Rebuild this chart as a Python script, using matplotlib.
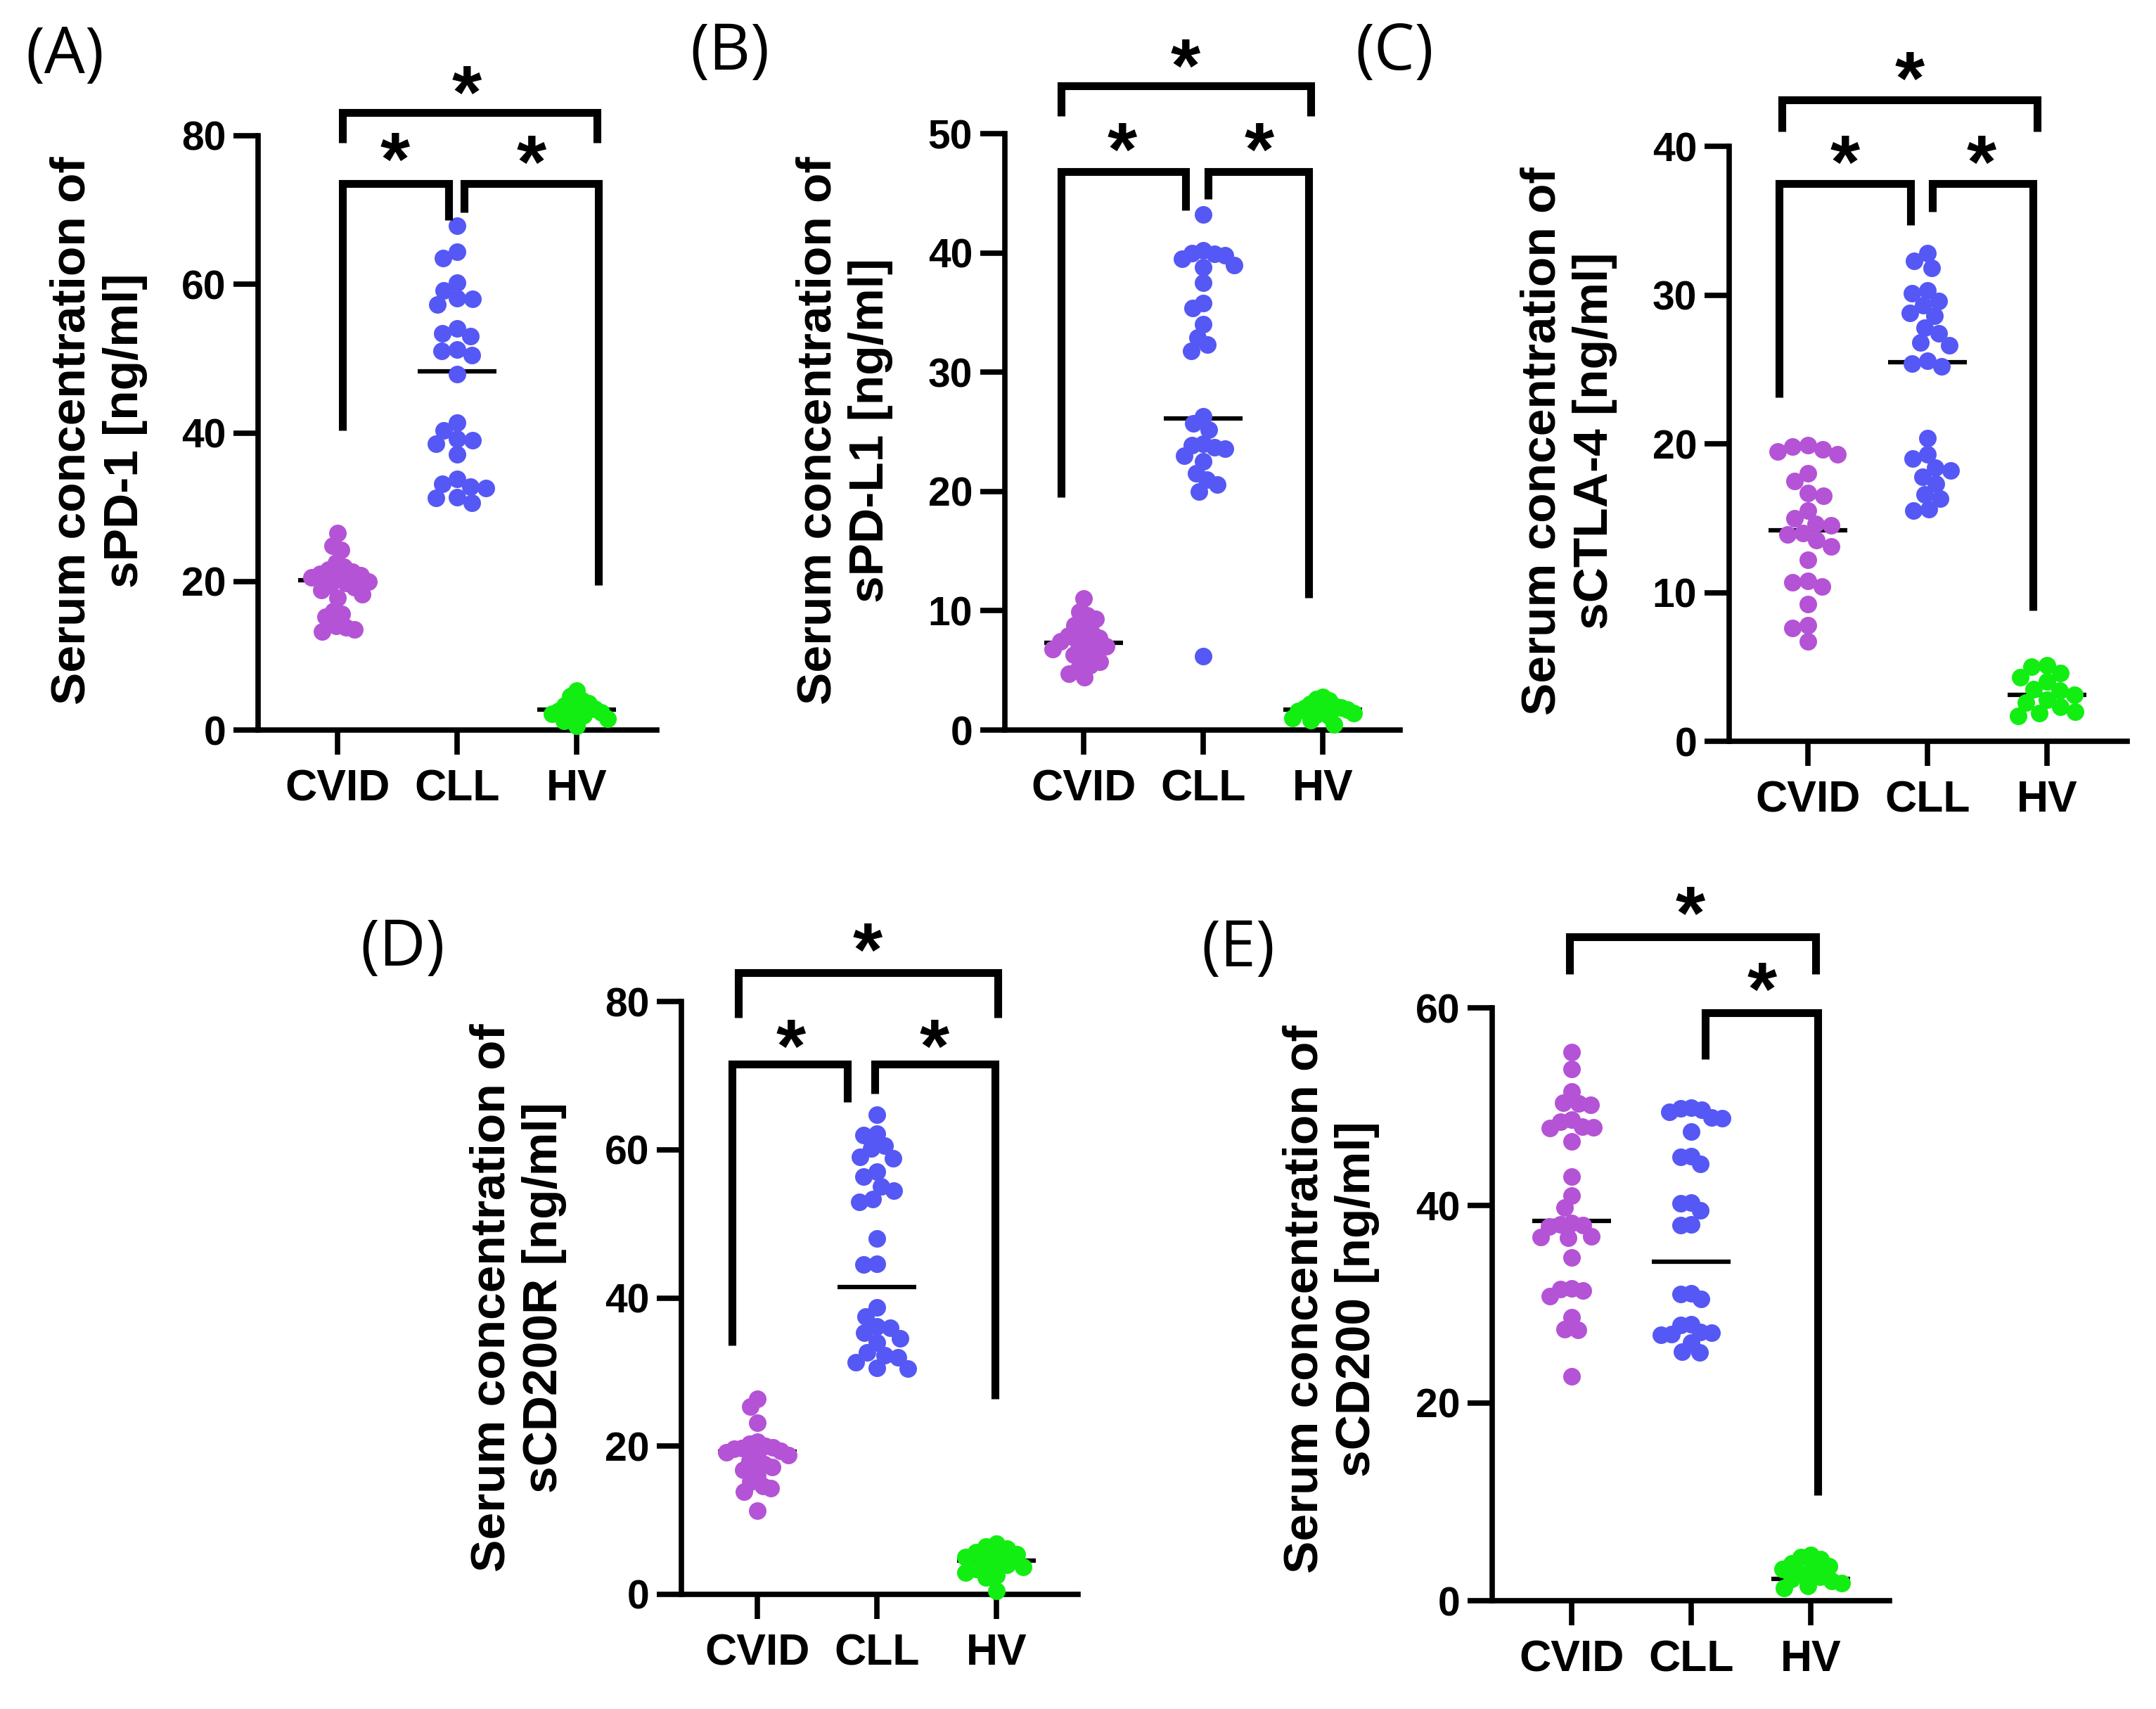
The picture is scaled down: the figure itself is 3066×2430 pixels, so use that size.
import numpy as np
import matplotlib
matplotlib.use("Agg")
import matplotlib.pyplot as plt
import matplotlib.transforms as mtransforms

plt.rcParams['font.family'] = ['Liberation Sans', 'DejaVu Sans']

# ---------------- data ----------------
groups = ["CVID", "CLL", "HV"]
group_colors = ["#B453D5", "#5558F4", "#12EE12"]

# Panel A: sPD-1
a_cvid = [26.5, 24.8, 24.2, 22.5, 22.0, 21.6, 21.3, 21.0, 20.8, 20.5, 20.3, 20.0, 19.8,
          19.5, 19.2, 18.8, 18.3, 17.8, 16.0, 15.6, 15.2, 14.0, 13.8, 13.5, 13.3]
a_cll = [67.9, 64.4, 63.5, 60.2, 59.2, 58.1, 58.0, 57.3, 54.1, 53.4, 53.0, 51.2, 51.0, 50.5,
         47.9, 41.4, 40.3, 39.2, 39.0, 38.5, 37.1, 33.8, 33.1, 32.8, 32.6, 31.3, 31.2, 30.6]
a_hv = [5.3, 4.5, 4.0, 3.6, 3.3, 3.0, 2.8, 2.6, 2.4, 2.2, 2.0, 1.8, 1.5, 1.2, 0.6]
a_lines = [20.2, 48.3, 2.7]

# Panel B: sPD-L1
b_cvid = [11.0, 9.9, 9.6, 9.3, 8.8, 8.5, 8.2, 7.9, 7.7, 7.5, 7.4, 7.2, 7.0, 6.8, 6.6,
          6.3, 6.0, 5.7, 5.4, 5.0, 4.7, 4.4]
b_cll = [43.2, 40.2, 40.0, 39.9, 39.8, 39.5, 39.0, 38.8, 37.5, 35.8, 35.4, 34.0, 32.9, 32.3,
         31.8, 26.3, 25.7, 25.2, 24.0, 23.9, 23.7, 23.6, 23.0, 22.5, 21.5, 21.0, 20.6, 20.0, 6.2]
b_hv = [2.8, 2.6, 2.5, 2.2, 2.0, 1.9, 1.8, 1.7, 1.6, 1.5, 1.4, 1.3, 1.2, 1.0, 0.8, 0.5]
b_lines = [7.3, 26.1, 1.7]

# Panel C: sCTLA-4
c_cvid = [19.9, 19.8, 19.6, 19.5, 19.3, 18.0, 17.5, 16.7, 16.5, 15.5, 15.0, 14.6, 14.5, 14.0,
          13.9, 13.5, 13.1, 12.2, 10.8, 10.7, 10.4, 9.2, 7.8, 7.6, 6.7]
c_cll = [32.8, 32.3, 31.8, 30.3, 30.1, 29.6, 29.3, 28.8, 28.6, 27.8, 27.4, 26.8, 26.6, 25.6,
         25.4, 25.2, 20.4, 19.3, 19.0, 18.4, 18.2, 17.8, 17.3, 16.6, 16.3, 15.6, 15.5]
c_hv = [5.1, 5.0, 4.6, 4.3, 4.0, 3.5, 3.4, 3.1, 2.8, 2.6, 2.3, 2.0, 1.9, 1.7]
c_lines = [14.2, 25.5, 3.1]

# Panel D: sCD200R
d_cvid = [26.4, 25.3, 23.2, 20.6, 20.3, 20.0, 19.8, 19.7, 19.6, 19.4, 19.2, 18.8, 18.5, 18.0,
          17.6, 17.2, 16.8, 16.0, 15.2, 14.6, 14.3, 13.9, 11.3]
d_cll = [64.7, 62.2, 62.0, 60.5, 60.2, 59.0, 58.8, 57.0, 56.4, 55.0, 54.5, 53.3, 53.0, 48.0,
         44.6, 44.5, 38.7, 37.5, 36.2, 36.0, 35.3, 34.5, 34.0, 32.6, 32.3, 32.0, 31.3, 30.6, 30.5]
d_hv = [6.8, 6.5, 6.2, 5.7, 5.4, 5.0, 4.7, 4.4, 4.0, 3.7, 3.4, 2.9, 2.6, 2.3, 0.5]
d_lines = [19.3, 41.5, 4.6]

# Panel E: sCD200
e_cvid = [55.5, 53.8, 51.5, 50.4, 50.3, 50.2, 48.7, 48.5, 48.0, 47.9, 47.8, 46.5, 42.9, 41.0,
          39.8, 38.2, 38.1, 38.0, 37.9, 36.9, 36.8, 36.7, 34.7, 31.6, 31.5, 31.4, 30.8, 28.7,
          27.5, 27.4, 22.7]
e_cll = [49.9, 49.8, 49.7, 49.5, 48.9, 48.8, 47.5, 45.0, 44.9, 44.2, 40.3, 40.2, 39.5, 38.1,
         38.0, 31.1, 31.0, 30.5, 28.0, 27.9, 27.2, 27.1, 27.0, 26.9, 26.1, 25.2, 25.1]
e_hv = [4.6, 4.4, 4.2, 3.8, 3.5, 3.2, 3.0, 2.7, 2.4, 2.2, 2.0, 1.8, 1.5, 1.3]
e_lines = [38.4, 34.3, 2.2]

panel_letters = ["(A)", "(B)", "(C)", "(D)", "(E)"]
analytes = ["sPD-1", "sPD-L1", "sCTLA-4", "sCD200R", "sCD200"]
y_max = [80, 50, 40, 80, 60]
y_step = [20, 10, 10, 20, 20]

# brackets: (x_left, x_right, y_bar, y_left_end, y_right_end); stars: (x, y)
a_brackets = [(0.04, 2.17, 83.1, 79.1, 79.1), (0.04, 0.93, 73.6, 40.3, 68.6),
              (1.06, 2.18, 73.6, 69.7, 19.5)]
a_stars = [(1.08, 88.1), (0.48, 79.1), (1.62, 78.7)]
b_brackets = [(-0.19, 1.90, 54.0, 51.5, 51.5), (-0.19, 0.85, 46.8, 19.5, 43.6),
              (1.04, 1.88, 46.8, 44.5, 11.1)]
b_stars = [(0.85, 57.1), (0.32, 50.1), (1.47, 50.1)]
c_brackets = [(-0.22, 1.92, 43.1, 41.0, 41.0), (-0.24, 0.86, 37.5, 23.1, 34.7),
              (1.04, 1.88, 37.5, 35.6, 8.8)]
c_stars = [(0.85, 45.7), (0.31, 40.1), (1.45, 40.1)]
d_brackets = [(-0.16, 2.01, 83.9, 77.8, 77.8), (-0.21, 0.75, 71.6, 33.6, 66.4),
              (0.98, 1.99, 71.6, 67.6, 26.4)]
d_stars = [(0.92, 89.3), (0.28, 76.3), (1.48, 76.3)]
e_brackets = [(-0.02, 2.04, 67.2, 63.4, 63.4), (1.12, 2.06, 59.5, 54.8, 10.7)]
e_stars = [(0.99, 71.3), (1.59, 63.6)]

panel_values = [(a_cvid, a_cll, a_hv), (b_cvid, b_cll, b_hv), (c_cvid, c_cll, c_hv),
                (d_cvid, d_cll, d_hv), (e_cvid, e_cll, e_hv)]
panel_lines = [a_lines, b_lines, c_lines, d_lines, e_lines]
panel_brackets = [a_brackets, b_brackets, c_brackets, d_brackets, e_brackets]
panel_stars = [a_stars, b_stars, c_stars, d_stars, e_stars]

# ---------------- layout (pixels) ----------------
W, H = 3066, 2430
DPI = 100
# left, right, top, bottom, x-pixel of first category
geom = [(367, 934, 193, 1038, 480),
        (1429, 1991, 190, 1038, 1541),
        (2459, 3025, 208, 1054, 2571),
        (969, 1533, 1424, 2267, 1077),
        (2122, 2687, 1433, 2276, 2235)]
CAT_PX = 170.0
label_pos = [(92, 80), (1038, 75), (1983, 75), (573, 1349), (1761, 1350)]
ylabel_pos = [(140, 612), (1201, 612), (2231, 627), (737, 1845), (1893, 1847)]

DIAM_PX = 25.0
DIAM_PT = DIAM_PX * 72.0 / DPI
MAX_HALF_PX = 44.0
STAR_FS = 78


def swarm_offsets(ypx, d):
    ypx = np.asarray(ypx, dtype=float)
    order = np.argsort(-ypx, kind="stable")
    placed = []
    offs = np.zeros(len(ypx))
    for i in order:
        y = ypx[i]
        near = [(xo, yo) for xo, yo in placed if abs(yo - y) < d]
        cands = [0.0]
        for xo, yo in near:
            dx = np.sqrt(d * d - (yo - y) ** 2)
            cands += [xo + dx, xo - dx]
        cands = sorted(cands, key=lambda c: (abs(c), c))
        for c in cands:
            if all((c - xo) ** 2 + (y - yo) ** 2 >= d * d - 1e-6 for xo, yo in near):
                offs[i] = c
                placed.append((c, y))
                break
    m = np.max(np.abs(offs)) if len(offs) else 0
    if m > MAX_HALF_PX:
        offs = offs * MAX_HALF_PX / m
    return offs


fig = plt.figure(figsize=(W / DPI, H / DPI), dpi=DPI, facecolor="white")

for p in range(5):
    left, right, top, bottom, x0 = geom[p]
    ax = fig.add_axes([left / W, 1 - bottom / H, (right - left) / W, (bottom - top) / H])
    ymax = y_max[p]
    px_per_unit = (bottom - top) / ymax
    ax.set_xlim((left - x0) / CAT_PX, (right - x0) / CAT_PX)
    ax.set_ylim(0, ymax)
    for spine in ["top", "right"]:
        ax.spines[spine].set_visible(False)
    for spine in ["left", "bottom"]:
        ax.spines[spine].set_linewidth(5.5)
        ax.spines[spine].set_capstyle("projecting")

    # center lines
    for gi, m in enumerate(panel_lines[p]):
        ax.plot([gi - 0.33, gi + 0.33], [m, m], color="black", lw=4.5,
                solid_capstyle="butt", zorder=2)

    # points
    for gi, vals in enumerate(panel_values[p]):
        vals = np.asarray(vals, dtype=float)
        offs = swarm_offsets(vals * px_per_unit, DIAM_PX * 0.88) / CAT_PX
        ax.scatter(gi + offs, vals, s=DIAM_PT ** 2, color=group_colors[gi],
                   linewidths=0, zorder=3, clip_on=False)

    # brackets
    for (xl, xr, yb, yl, yr) in panel_brackets[p]:
        ax.plot([xl, xl, xr, xr], [yl, yb, yb, yr], color="black", lw=8,
                solid_joinstyle="miter", solid_capstyle="butt", clip_on=False, zorder=4)
    tr = mtransforms.offset_copy(ax.transData, fig=fig, x=0, y=-0.56 * STAR_FS, units="points")
    for (sx, sy) in panel_stars[p]:
        ax.text(sx, sy, "*", transform=tr, ha="center", va="baseline",
                fontsize=STAR_FS, fontweight="bold", clip_on=False)

    ax.set_xticks(range(3))
    ax.set_xticklabels(groups, fontsize=45, fontweight="bold")
    ax.set_yticks(np.arange(0, ymax + 0.1, y_step[p]))
    ax.set_yticklabels([str(int(v)) for v in np.arange(0, ymax + 0.1, y_step[p])],
                       fontsize=41, fontweight="bold")
    ax.tick_params(axis="x", length=25, width=5.5, pad=14)
    ax.tick_params(axis="y", length=25, width=5.5, pad=8)
    ax.patch.set_alpha(0)

    lx, ly = ylabel_pos[p]
    fig.text(lx / W, 1 - ly / H, "Serum concentration of\n" + analytes[p] + " [ng/ml]",
             rotation=90, ha="center", va="center", multialignment="center",
             fontsize=50, fontweight="bold", linespacing=1.22)

    px_, py_ = label_pos[p]
    fig.text(px_ / W, 1 - py_ / H, panel_letters[p], ha="center", va="center",
             fontsize=66, family=["Open Sans", "DejaVu Sans"])

fig.savefig("out.png", dpi=DPI, facecolor="white")
